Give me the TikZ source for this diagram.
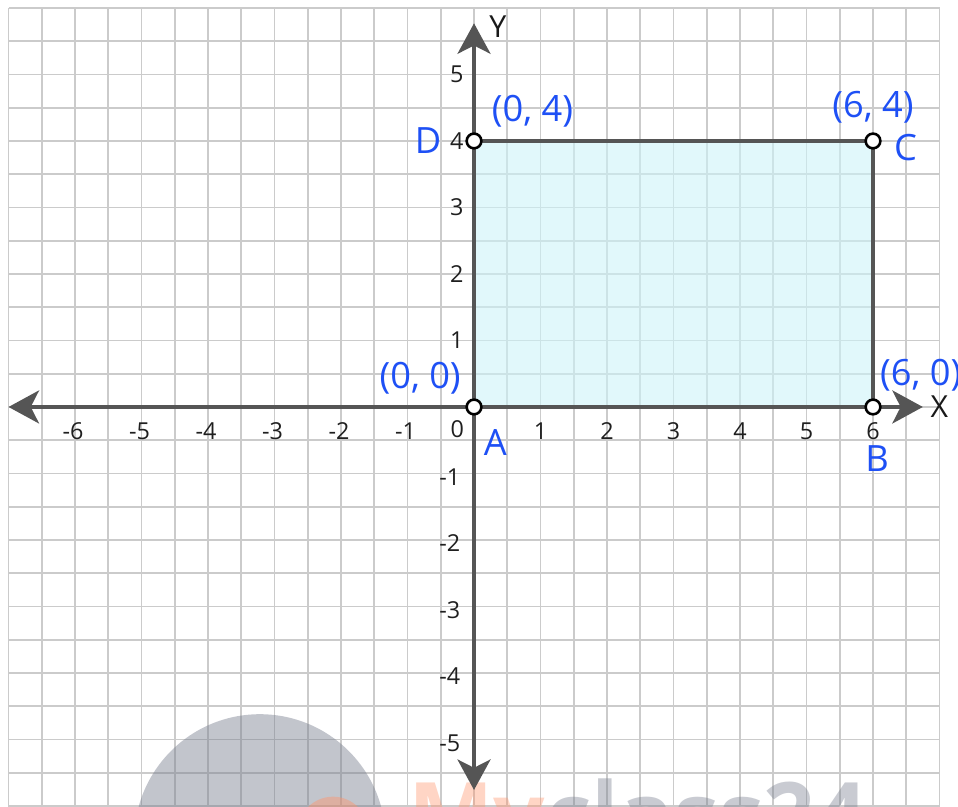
\documentclass[tikz,border=0pt]{standalone}
\usepackage{fontspec}
\setmainfont{Open Sans}
\usetikzlibrary{arrows.meta}
\definecolor{gridc}{RGB}{203,203,203}
\definecolor{axisc}{RGB}{85,85,85}
\definecolor{fillc}{RGB}{205,243,249}
\definecolor{labc}{RGB}{30,80,245}
\definecolor{wmgray}{RGB}{120,126,142}
\definecolor{wmorange}{RGB}{255,150,110}
\begin{document}
\begin{tikzpicture}[
  gridline/.style={draw=gridc, line width=0.8pt},
  axisline/.style={draw=axisc, line width=2.1pt,
    {Stealth[length=13pt,width=14pt,inset=3.5pt]}-{Stealth[length=13pt,width=14pt,inset=3.5pt]}},
  side/.style={draw=axisc, line width=1.8pt},
  vertex/.style={circle, draw=black, fill=white, line width=1.1pt, inner sep=0pt, minimum size=6.3pt},
  ticklab/.style={font=\fontsize{10}{12}\selectfont, text=black!88, inner sep=0pt},
  ptlabel/.style={font=\fontsize{15.5}{18}\selectfont, text=labc, inner sep=0pt},
  axlabel/.style={font=\fontsize{13}{15}\selectfont, text=black!90, inner sep=0pt},
]
\useasboundingbox (-7.128,-6.015) rectangle (7.278,6.12);
\clip (-7.128,-6.015) rectangle (7.278,6.12);

% grid
\foreach \gx in {-7,-6.5,...,7} \draw[gridline] (\gx,-6.2) -- (\gx,6);
\foreach \gy in {-6,-5.5,...,6} \draw[gridline] (-7,\gy) -- (7,\gy);

% watermark
\fill[wmgray, opacity=0.45] (-3.22,-6.51) circle (1.89);
\fill[wmorange, opacity=0.45] (-2.12,-6.39) circle (0.53);
\node[anchor=base west, inner sep=0pt, font=\fontsize{38.7}{40}\selectfont\bfseries, opacity=0.4] (wm) at (-0.99,-6.62)
  {\textcolor{wmorange}{My}\textcolor{wmgray}{class24}};

% points
\coordinate (pA) at (0,0);
\coordinate (pB) at (6,0);
\coordinate (pC) at (6,4);
\coordinate (pD) at (0,4);

% rectangle fill
\fill[fillc, opacity=0.6] (pA) rectangle (pC);

% axes
\coordinate (xl) at (-7.0,0);
\coordinate (xr) at (6.75,0);
\coordinate (yb) at (0,-5.76);
\coordinate (yt) at (0,5.77);
\draw[axisline] (xl) -- (xr);
\draw[axisline] (yb) -- (yt);

% rectangle sides
\draw[side] (pA) -- (pB) -- (pC) -- (pD) -- cycle;

% tick labels
\foreach \i in {-6,...,-1} \node[ticklab] (tx\i) at (\i-0.03,-0.36) {\i};
\foreach \i in {1,...,6} \node[ticklab] (tx\i) at (\i,-0.36) {\i};
\node[ticklab] (tx0) at (-0.25,-0.33) {0};
\foreach \j in {1,...,5} \node[ticklab, anchor=east] (ty\j) at (-0.15,\j) {\j};
\foreach \j in {-5,...,-1} \node[ticklab, anchor=east] (ty\j) at (-0.2,\j-0.05) {\j};

% axis names
\node[axlabel] (xname) at (7.0,0) {X};
\node[axlabel] (yname) at (0.36,5.72) {Y};

% vertices
\node[vertex] (vA) at (pA) {};
\node[vertex] (vB) at (pB) {};
\node[vertex] (vC) at (pC) {};
\node[vertex] (vD) at (pD) {};

% point labels
\node[ptlabel] (lA) at (0.32,-0.53) {A};
\node[ptlabel] (lB) at (6.06,-0.78) {B};
\node[ptlabel] (lC) at (6.49,3.9) {C};
\node[ptlabel] (lD) at (-0.69,4.0) {D};
\node[ptlabel] (cA) at (-0.81,0.43) {(0, 0)};
\node[ptlabel, anchor=west] (cB) at (6.1,0.48) {(6, 0)};
\node[ptlabel] (cC) at (6.0,4.5) {(6, 4)};
\node[ptlabel] (cD) at (0.88,4.44) {(0, 4)};
\end{tikzpicture}
\end{document}
